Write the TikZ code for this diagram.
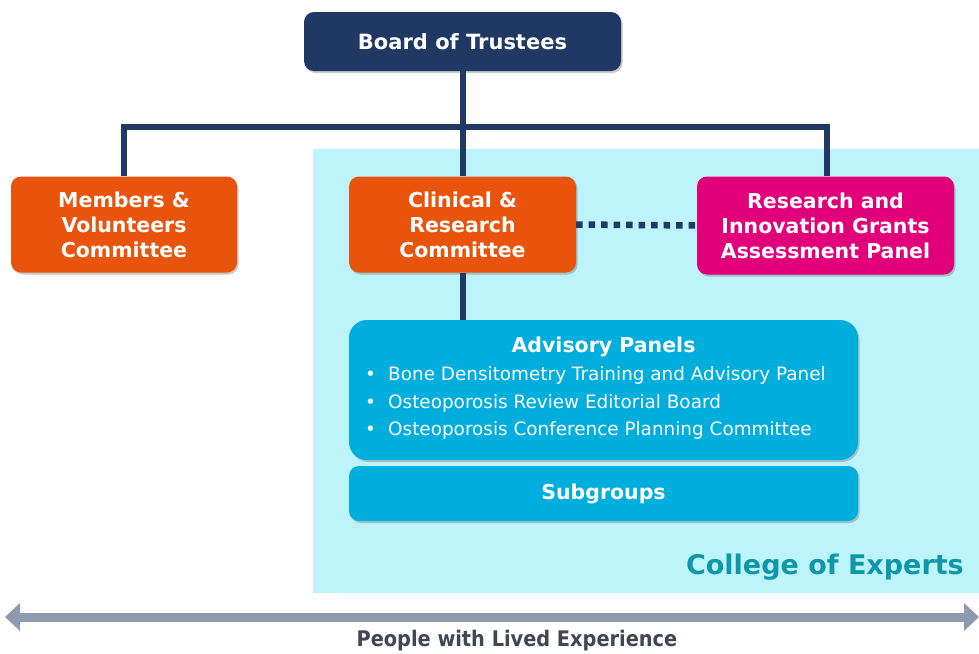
\documentclass[tikz,border=0pt]{standalone}
\usepackage{fontspec}
\setmainfont{DejaVu Sans}
\newfontfamily\condfont{DejaVu Sans Condensed}
\usetikzlibrary{arrows.meta,shadows}
\definecolor{navy}{HTML}{1F3864}
\definecolor{orng}{HTML}{E9540D}
\definecolor{magn}{HTML}{E2007A}
\definecolor{bgcyan}{HTML}{BDF3FB}
\definecolor{advblue}{HTML}{00AEDE}
\definecolor{teal}{HTML}{0E97A8}
\definecolor{arrgray}{HTML}{8E9AAF}
\definecolor{txtgray}{HTML}{3F4654}
\tikzset{
  box/.style={rounded corners=10pt, text=white, font=\bfseries\fontsize{20.5}{25}\selectfont,
    align=center, inner sep=0pt, drop shadow={shadow xshift=1.5pt, shadow yshift=-2pt, opacity=0.35, fill=black!60}},
  conn/.style={draw=navy, line width=6pt},
  bullet/.style={text=white, font=\fontsize{18.4}{27.5}\selectfont, align=left, inner sep=0pt, anchor=west}
}
\begin{document}
\begin{tikzpicture}[x=1pt,y=-1pt]
\useasboundingbox (0,0) rectangle (979,653);
\fill[white] (0,0) rectangle (979,653);
\fill[bgcyan] (313,149) rectangle (979,593);
\node[box, fill=navy, minimum width=317pt, minimum height=59pt, font=\bfseries\fontsize{21}{25}\selectfont] (board) at (462.5,41.5) {Board of Trustees};
\node[box, fill=orng, minimum width=226pt, minimum height=96pt] (members) at (124,224.5) {Members \&\\Volunteers\\Committee};
\node[box, fill=orng, minimum width=227pt, minimum height=96pt] (clinical) at (462.5,224.5) {Clinical \&\\Research\\Committee};
\node[box, fill=magn, minimum width=257pt, minimum height=98pt] (research) at (825.5,225.5) {Research and\\Innovation Grants\\Assessment Panel};
\node[box, fill=advblue, rounded corners=18pt, minimum width=509pt, minimum height=140pt] (advisory) at (603.5,390) {};
\node[box, fill=advblue, minimum width=509pt, minimum height=55pt] (subgroups) at (603.5,493.5) {Subgroups};
\node[text=white, font=\bfseries\fontsize{20.5}{25}\selectfont, inner sep=0pt] (advtitle) at (603.5,347) {Advisory Panels};
\node[bullet] (b1) at (365,375.5) {\makebox[23pt][l]{•}Bone Densitometry Training and Advisory Panel};
\node[bullet] (b2) at (365,403) {\makebox[23pt][l]{•}Osteoporosis Review Editorial Board};
\node[bullet] (b3) at (365,430.5) {\makebox[23pt][l]{•}Osteoporosis Conference Planning Committee};
\coordinate (busL) at (124,127);
\coordinate (busR) at (827,127);
\draw[conn] (board.south) -- (clinical.north);
\draw[conn, line join=miter] (members.north) -- (busL) -- (busR) -- (research.north -| busR);
\draw[conn] (clinical.south) -- (advisory.north -| clinical.south);
\draw[draw=navy, line width=6.5pt, dash pattern=on 6.5pt off 6pt] (clinical.east) -- (research.west);
\node[text=teal, font=\bfseries\fontsize{27}{30}\selectfont, anchor=east, inner sep=0pt] (college) at (964,567.5) {College of Experts};
\coordinate (arrL) at (5,617);
\coordinate (arrR) at (979,617);
\draw[arrgray, line width=9pt, {Triangle[width=27pt,length=15pt]}-{Triangle[width=27pt,length=15pt]}] (arrL) -- (arrR);
\node[text=txtgray, font=\condfont\bfseries\fontsize{21.5}{24}\selectfont, inner sep=0pt] (lived) at (517,641) {People with Lived Experience};
\end{tikzpicture}
\end{document}
